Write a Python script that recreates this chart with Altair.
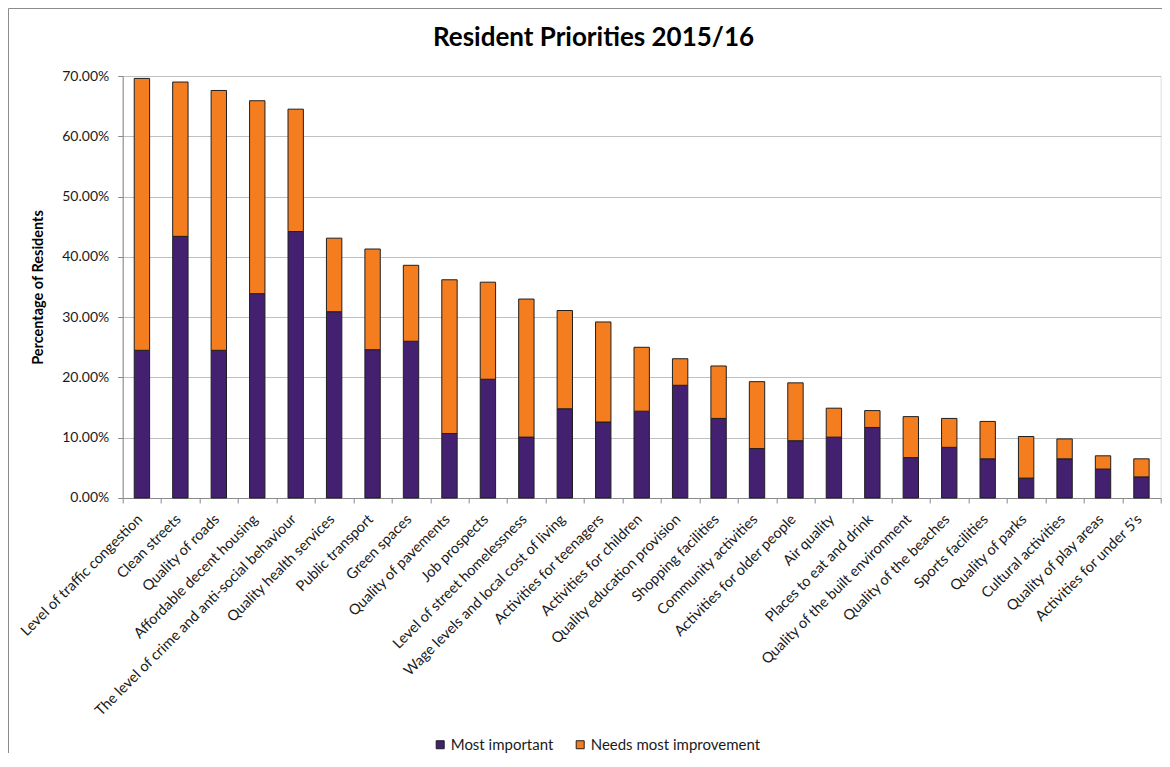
import altair as alt
import pandas as pd

categories = [
    "Level of traffic congestion", "Clean streets", "Quality of roads",
    "Affordable decent housing", "The level of crime and anti-social behaviour",
    "Quality health services", "Public transport", "Green spaces",
    "Quality of pavements", "Job prospects", "Level of street homelessness",
    "Wage levels and local cost of living", "Activities for teenagers",
    "Activities for children", "Quality education provision",
    "Shopping facilities", "Community activities", "Activities for older people",
    "Air quality", "Places to eat and drink", "Quality of the built environment",
    "Quality of the beaches", "Sports facilities", "Quality of parks",
    "Cultural activities", "Quality of play areas", "Activities for under 5\u2019s",
]
# percentages
most_important = [24.5, 43.4, 24.5, 33.9, 44.2, 30.9, 24.6, 26.0, 10.7, 19.7, 10.1,
                  14.8, 12.6, 14.4, 18.7, 13.2, 8.2, 9.5, 10.1, 11.7, 6.7, 8.4, 6.5,
                  3.3, 6.5, 4.8, 3.5]
needs_improvement = [45.1, 25.6, 43.1, 32.0, 20.3, 12.2, 16.7, 12.6, 25.5, 16.1, 22.9,
                     16.3, 16.6, 10.6, 4.4, 8.7, 11.1, 9.6, 4.8, 2.8, 6.8, 4.8, 6.2,
                     6.9, 3.3, 2.2, 3.0]
series = ["Most important", "Needs most improvement"]
colors = ["#432070", "#F47D20"]
y_ticks = [0.0, 0.1, 0.2, 0.3, 0.4, 0.5, 0.6, 0.7]

rows = []
for i, c in enumerate(categories):
    rows.append({"category": c, "series": series[0], "value": most_important[i] / 100, "order": 0})
    rows.append({"category": c, "series": series[1], "value": needs_improvement[i] / 100, "order": 1})
df = pd.DataFrame(rows)

W, H = 1038, 422
PL, PT, PR, PB = 114.7, 68, 1, 255
FONT = "Lato"
TXT = "#1a1a1a"

bars = alt.Chart(df).mark_bar(
    width=alt.RelativeBandSize(0.4), stroke="#1f1f1f", strokeWidth=1
).encode(
    x=alt.X("category:N", sort=categories,
            scale=alt.Scale(paddingInner=0, paddingOuter=0),
            axis=alt.Axis(title=None, labelAngle=-45, labelAlign="right",
                          labelBaseline="middle", tickBand="extent",
                          labelFont=FONT, labelFontSize=14.6, labelColor=TXT,
                          labelPadding=14, labelOffset=-2, tickSize=5,
                          tickColor="#8a8a8a", domainColor="#8a8a8a",
                          labelLimit=400, grid=False)),
    y=alt.Y("value:Q", stack="zero",
            scale=alt.Scale(domain=[0, 0.7], nice=False),
            axis=alt.Axis(values=y_ticks, format=".2%", title="Percentage of Residents",
                          titleFont=FONT, titleFontSize=14.5, titleFontWeight="bold",
                          titleColor="#000000", titleX=-84, titleY=H / 2,
                          titleAngle=-90, titleAlign="center", titleBaseline="middle",
                          labelFont=FONT, labelFontSize=14, labelColor=TXT,
                          labelPadding=9, tickSize=5, tickColor="#8a8a8a",
                          domainColor="#8a8a8a", gridColor="#c0c0c0", gridWidth=1)),
    color=alt.Color("series:N", scale=alt.Scale(domain=series, range=colors),
                    legend=alt.Legend(title=None, orient="none", legendX=310, legendY=661,
                                      direction="horizontal", symbolType="square",
                                      symbolSize=64, symbolStrokeColor="#1f1f1f",
                                      symbolStrokeWidth=1, labelFont=FONT,
                                      labelFontSize=15, labelColor=TXT, labelOffset=3,
                                      labelLimit=400, columnPadding=19, padding=0)),
    order=alt.Order("order:Q"),
)

border = alt.Chart(pd.DataFrame({"k": [0]})).mark_rect(
    fillOpacity=0, stroke="#8c8c8c", strokeWidth=1
).encode(
    x=alt.value(-PL + 0.5), x2=alt.value(3000),
    y=alt.value(-PT + 0.5), y2=alt.value(3000),
)

title = alt.Chart(pd.DataFrame({"t": ["Resident Priorities 2015/16"]})).mark_text(
    font=FONT, fontSize=26, fontWeight="bold", color="#000000",
    align="center", baseline="middle"
).encode(
    text="t:N", x=alt.value(470.8), y=alt.value(-38),
)

chart = alt.layer(border, bars, title).properties(
    width=W, height=H,
    autosize=alt.AutoSizeParams(type="none"),
    padding={"left": PL, "top": PT, "right": PR, "bottom": PB},
).configure_view(stroke=None).configure(background="white")

chart.save("out.html", embed_options={"renderer": "svg", "actions": False})
